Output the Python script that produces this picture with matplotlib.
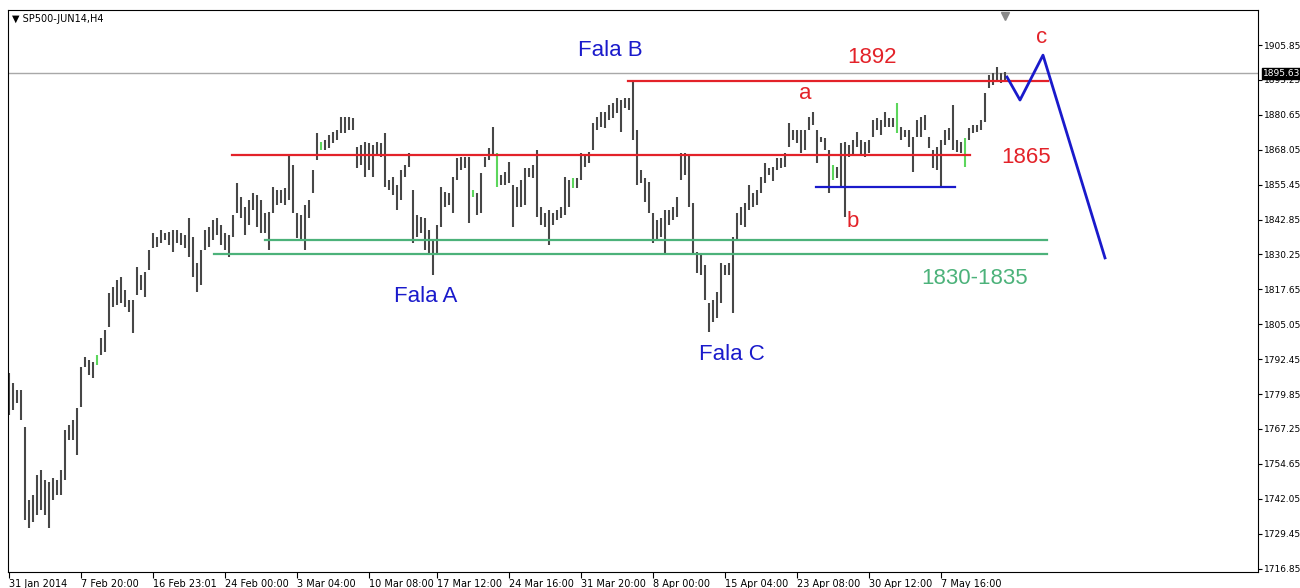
import numpy as np
import matplotlib
matplotlib.use("Agg")
import matplotlib.pyplot as plt

# SP500-JUN14, H4 bars (high / low) left to right
highs = [
    1787.4, 1783.8, 1781.3, 1781.3, 1768.0, 1741.6, 1743.4, 1750.6, 1752.4, 1748.8,
    1748.0, 1749.5, 1748.8, 1752.4, 1766.9, 1768.7, 1770.5, 1774.8, 1789.6, 1793.2,
    1792.1, 1791.4, 1794.0, 1800.1, 1803.0, 1816.3, 1818.5, 1821.0, 1822.1, 1817.4,
    1813.8, 1813.8, 1825.7, 1822.8, 1823.9, 1831.8, 1838.0, 1836.6, 1839.1, 1838.0,
    1838.3, 1839.1, 1839.1, 1838.0, 1837.3, 1843.4, 1836.6, 1827.2, 1831.8, 1839.1,
    1840.1,
    1842.7, 1843.4, 1840.9, 1838.0, 1837.3, 1844.5, 1856.1, 1851.0, 1847.4, 1849.9,
    1852.4, 1851.7, 1849.9, 1845.2, 1845.6, 1854.6, 1853.5, 1853.5, 1854.2, 1866.1,
    1862.5, 1845.2, 1844.5, 1848.1, 1849.9, 1860.7, 1874.1, 1870.8, 1871.6, 1873.4,
    1874.4, 1875.2, 1879.9, 1879.9, 1879.9, 1879.5, 1869.0, 1869.8, 1870.8, 1870.5,
    1869.8, 1870.8, 1870.5, 1874.1, 1857.1, 1858.2, 1855.3, 1860.7,
    1862.5, 1866.9, 1853.5, 1844.5, 1843.8, 1843.4, 1839.1, 1835.5, 1840.9, 1854.6,
    1852.8, 1852.4, 1858.2, 1865.0, 1865.4, 1865.4, 1865.4, 1853.5, 1852.4, 1859.6,
    1865.4, 1868.6, 1876.2, 1866.9, 1858.9, 1860.0, 1863.6, 1855.3, 1854.6, 1857.1,
    1861.4, 1861.4, 1862.5, 1867.9, 1847.4, 1845.2, 1846.3, 1845.2, 1846.3, 1847.4,
    1858.2, 1857.1, 1857.8, 1857.8, 1866.9, 1866.1, 1867.2, 1877.7, 1879.9, 1881.6,
    1881.6, 1884.2, 1884.9, 1886.7, 1886.0, 1886.7, 1886.7, 1892.5, 1875.2, 1860.7,
    1857.8, 1856.4, 1845.2, 1842.7, 1843.4, 1846.3, 1846.3, 1847.4, 1851.0, 1866.9,
    1866.9, 1866.1, 1848.8, 1831.1, 1830.0, 1826.4, 1812.7, 1813.8, 1816.7, 1827.1,
    1826.4, 1827.1, 1836.5, 1845.2, 1847.4, 1848.8, 1855.3, 1852.4, 1853.5, 1858.2,
    1863.2, 1861.4, 1861.8, 1865.0, 1865.0, 1866.9, 1877.7, 1875.2, 1875.2, 1875.2,
    1875.2, 1879.9, 1881.6, 1875.2, 1872.6, 1872.3, 1867.9, 1862.5, 1861.8, 1870.5,
    1870.8, 1869.8, 1871.6, 1874.4, 1871.6, 1870.8, 1871.6, 1878.8, 1879.5, 1878.8,
    1881.6, 1879.5, 1879.5, 1884.9, 1876.2, 1875.2, 1875.2, 1872.6, 1878.8, 1879.9,
    1880.6, 1872.6, 1867.9, 1869.0, 1871.6, 1875.2, 1875.9, 1884.2, 1871.6, 1870.8,
    1872.3, 1875.9, 1876.9, 1876.9, 1878.8, 1888.5, 1895.0, 1895.7, 1897.9, 1895.7,
    1896.0,
]
lows = [
    1772.3, 1774.1, 1776.6, 1770.5, 1734.4, 1731.5, 1733.6, 1736.2, 1738.0, 1736.2,
    1731.5, 1741.6, 1743.4, 1743.4, 1748.8, 1763.2, 1763.2, 1757.8, 1775.2, 1789.6,
    1786.7, 1785.6, 1790.3, 1794.0, 1795.1, 1804.1, 1811.3, 1812.0, 1812.7, 1811.3,
    1809.5, 1801.9, 1815.6, 1817.4, 1814.9, 1824.6, 1832.6, 1833.0, 1834.4, 1835.5,
    1833.6, 1831.1, 1834.4, 1833.6, 1832.6, 1829.3, 1822.1, 1816.7, 1819.2, 1831.8,
    1832.9,
    1835.5, 1837.3, 1833.6, 1831.8, 1829.3, 1836.6, 1845.2, 1843.4, 1837.3, 1840.9,
    1846.3, 1840.1, 1838.0, 1838.0, 1831.8, 1845.2, 1848.1, 1848.8, 1848.1, 1849.9,
    1845.2, 1836.2, 1835.5, 1831.8, 1843.4, 1852.4, 1864.3, 1867.9, 1867.9, 1868.6,
    1870.5, 1871.6, 1874.1, 1874.1, 1875.2, 1875.2, 1861.4, 1862.5, 1858.2, 1860.7,
    1858.2, 1866.1, 1865.4, 1854.6, 1853.5, 1851.7, 1846.3, 1849.9,
    1858.2, 1861.8, 1834.4, 1836.5, 1838.0, 1831.8, 1830.8, 1822.8, 1830.0, 1840.1,
    1847.4, 1848.1, 1845.2, 1857.1, 1860.7, 1861.4, 1841.6, 1851.0, 1844.5, 1845.2,
    1861.8, 1864.3, 1866.1, 1854.6, 1855.3, 1855.3, 1856.1, 1840.1, 1847.4, 1847.4,
    1848.1, 1858.2, 1857.8, 1843.8, 1840.9, 1840.1, 1833.6, 1840.9, 1842.7, 1843.4,
    1844.5, 1847.4, 1854.2, 1854.2, 1857.1, 1861.8, 1863.2, 1867.9, 1875.2, 1876.2,
    1875.9, 1878.8, 1879.5, 1881.3, 1874.4, 1883.1, 1882.4, 1871.6, 1855.3, 1856.1,
    1849.2, 1845.2, 1834.4, 1835.5, 1836.6, 1830.0, 1840.9, 1842.7, 1843.8, 1857.1,
    1858.9, 1847.4, 1830.8, 1823.5, 1822.8, 1813.8, 1802.2, 1806.0, 1807.3, 1812.7,
    1822.8, 1822.8, 1809.1, 1835.5, 1840.9, 1840.1, 1846.3, 1847.4, 1848.1, 1852.4,
    1856.1, 1858.9, 1856.8, 1860.7, 1861.4, 1861.8, 1869.0, 1871.6, 1870.5, 1866.9,
    1867.9, 1875.2, 1877.0, 1863.2, 1870.8, 1867.9, 1852.4, 1857.1, 1857.8, 1854.6,
    1843.8, 1865.4, 1866.1, 1869.0, 1866.1, 1865.4, 1866.9, 1872.6, 1875.2, 1873.4,
    1876.2, 1876.2, 1876.2, 1874.1, 1871.6, 1872.6, 1869.0, 1860.0, 1872.6, 1872.6,
    1875.2, 1868.6, 1861.4, 1860.7, 1854.2, 1869.8, 1871.6, 1867.9, 1867.2, 1866.9,
    1861.8, 1871.6, 1874.1, 1874.4, 1875.2, 1878.1, 1890.3, 1891.4, 1892.5, 1892.1,
    1893.2,
]
green_bars = [22, 78, 116, 122, 141, 206, 222, 239]

date_ticks = [0, 18, 36, 54, 72, 90, 107, 125, 143, 161, 179, 197, 215, 233]
date_labels = ['31 Jan 2014', '7 Feb 20:00', '16 Feb 23:01', '24 Feb 00:00', '3 Mar 04:00',
               '10 Mar 08:00', '17 Mar 12:00', '24 Mar 16:00', '31 Mar 20:00', '8 Apr 00:00',
               '15 Apr 04:00', '23 Apr 08:00', '30 Apr 12:00', '7 May 16:00']
price_ticks = [1905.85, 1893.25, 1880.65, 1868.05, 1855.45, 1842.85, 1830.25, 1817.65,
               1805.05, 1792.45, 1779.85, 1767.25, 1754.65, 1742.05, 1729.45, 1716.85]
last_price = 1895.63

# drawn levels: (x start, x end, price)
level_1892 = (154.75, 259.75, 1892.7)
level_1865 = (55.75, 240.25, 1866.1)
level_1835 = (64.0, 259.5, 1835.5)
level_1830 = (51.25, 259.5, 1830.4)
level_b = (201.75, 236.5, 1854.6)
proj_x = [249.5, 252.75, 258.5, 274.0]
proj_y = [1894.3, 1886.0, 1902.2, 1829.0]

RED = '#e32229'
BLUE = '#1a1acb'
GREEN = '#4cb27a'

fig = plt.figure(figsize=(13, 5.88), dpi=100)
ax = fig.add_axes([8 / 1300, 16 / 588, 1250 / 1300, 562 / 588])

x = np.arange(len(highs))
cols = ['#5cd65c' if i in green_bars else '#474747' for i in x]
ax.vlines(x, lows, highs, colors=cols, linewidth=1.5)

ax.axhline(last_price, color='#a8a8a8', linewidth=1.0, zorder=0)

for x0, x1, p in [level_1892, level_1865]:
    ax.plot([x0, x1], [p, p], color=RED, linewidth=1.6)
for x0, x1, p in [level_1835, level_1830]:
    ax.plot([x0, x1], [p, p], color=GREEN, linewidth=1.6)
ax.plot([level_b[0], level_b[1]], [level_b[2]] * 2, color=BLUE, linewidth=1.6)
ax.plot(proj_x, proj_y, color=BLUE, linewidth=2.0)

txt = dict(fontsize=16, family='Liberation Sans', ha='center', va='center')
ax.text(150.25, 1904.0, 'Fala B', color=BLUE, **txt)
ax.text(104.25, 1815.2, 'Fala A', color=BLUE, **txt)
ax.text(180.75, 1794.3, 'Fala C', color=BLUE, **txt)
ax.text(215.75, 1901.5, '1892', color=RED, **txt)
ax.text(254.25, 1865.4, '1865', color=RED, **txt)
ax.text(199.0, 1888.5, 'a', color=RED, **txt)
ax.text(211.0, 1842.3, 'b', color=RED, **txt)
ax.text(258.25, 1908.7, 'c', color=RED, **txt)
ax.text(241.5, 1821.4, '1830-1835', color=GREEN, **txt)

ax.set_xlim(-0.25, 312.25)
ax.set_ylim(1715.6, 1918.5)

ax.set_xticks(date_ticks)
ax.set_xticklabels(date_labels)
for lab in ax.get_xticklabels():
    lab.set_horizontalalignment('left')
ax.yaxis.tick_right()
ax.set_yticks(price_ticks)
ax.set_yticklabels([f'{p:.2f}' for p in price_ticks])
ax.tick_params(axis='x', direction='out', length=4, width=0.8, labelsize=7, pad=1)
ax.tick_params(axis='y', direction='out', length=3, width=0.8, labelsize=6.5, pad=1.5)
for s in ax.spines.values():
    s.set_color('black')
    s.set_linewidth(0.8)

ax.annotate(f'{last_price:.2f}', xy=(1.0, last_price), xycoords=('axes fraction', 'data'),
            xytext=(3.5, 0), textcoords='offset points', va='center', ha='left',
            fontsize=6.5, color='white',
            bbox=dict(boxstyle='square,pad=0.1', fc='black', ec='black'))

# chart shift marker
ax.plot([249], [1916.2], marker='v', markersize=6, color='#8a8a8a', clip_on=False)

fig.text(12 / 1300, 1 - 19 / 588, '\u25bc SP500-JUN14,H4', fontsize=7, va='center')

fig.savefig('out.png', dpi=100)
